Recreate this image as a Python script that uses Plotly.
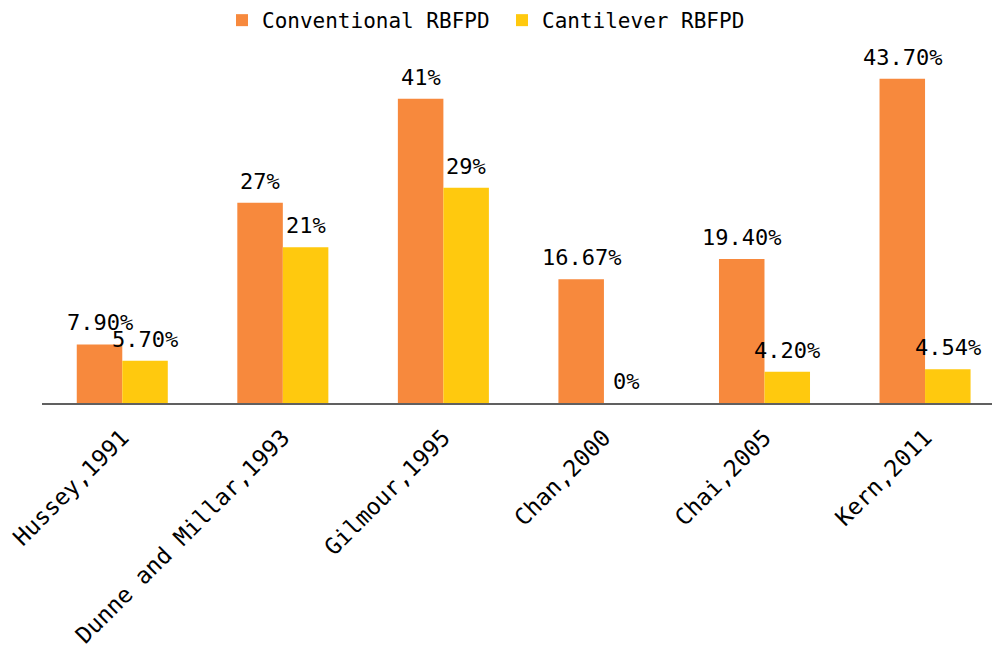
import plotly.graph_objects as go

# Studies and reported failure rates (%) for the two bridge designs
studies = ["Hussey,1991", "Dunne and Millar,1993", "Gilmour,1995",
           "Chan,2000", "Chai,2005", "Kern,2011"]
conventional = [7.90, 27, 41, 16.67, 19.40, 43.70]
cantilever = [5.70, 21, 29, 0, 4.20, 4.54]
conventional_labels = ["7.90%", "27%", "41%", "16.67%", "19.40%", "43.70%"]
cantilever_labels = ["5.70%", "21%", "29%", "0%", "4.20%", "4.54%"]

FONT = "DejaVu Sans Mono"
ORANGE = "#F7893D"
YELLOW = "#FFC90E"

X_RANGE = [-0.5, 5.417]
BARGAP = 0.433
PLOT_LEFT, PLOT_RIGHT = 42, 992

fig = go.Figure()
fig.add_trace(go.Bar(name="Conventional RBFPD", x=studies, y=conventional,
                     marker=dict(color=ORANGE, line=dict(width=0))))
fig.add_trace(go.Bar(name="Cantilever RBFPD", x=studies, y=cantilever,
                     marker=dict(color=YELLOW, line=dict(width=0))))

# Value labels above each bar, shifted sideways to the bar's slot in the group
px_per_cat = (PLOT_RIGHT - PLOT_LEFT) / (X_RANGE[1] - X_RANGE[0])
half_bar = px_per_cat * (1 - BARGAP) / 4
for values, labels, side in ((conventional, conventional_labels, -1),
                             (cantilever, cantilever_labels, 1)):
    for study, v, lab in zip(studies, values, labels):
        fig.add_annotation(x=study, y=v, text=lab, showarrow=False,
                           xanchor="center", yanchor="bottom",
                           xshift=side * half_bar, yshift=7,
                           font=dict(family=FONT, size=22, color="#000000"))

fig.update_layout(
    width=992, height=648,
    margin=dict(l=PLOT_LEFT, r=992 - PLOT_RIGHT, t=30, b=243),
    paper_bgcolor="white", plot_bgcolor="white",
    barmode="group", bargap=BARGAP, bargroupgap=0,
    font=dict(family=FONT, size=21, color="#000000"),
    legend=dict(orientation="h", x=(222 - PLOT_LEFT) / (PLOT_RIGHT - PLOT_LEFT),
                xanchor="left", y=1.032, yanchor="middle",
                entrywidth=235, entrywidthmode="pixels",
                font=dict(family=FONT, size=21, color="#000000")),
    xaxis=dict(range=X_RANGE, showgrid=False, showline=True,
               linecolor="#606060", linewidth=2, ticks="",
               tickangle=-45, ticklabelstandoff=10,
               tickfont=dict(family=FONT, size=23, color="#000000")),
    yaxis=dict(range=[0, 50], showgrid=False, showline=False,
               showticklabels=False, zeroline=False, ticks=""),
)

fig.write_html("out.html")
